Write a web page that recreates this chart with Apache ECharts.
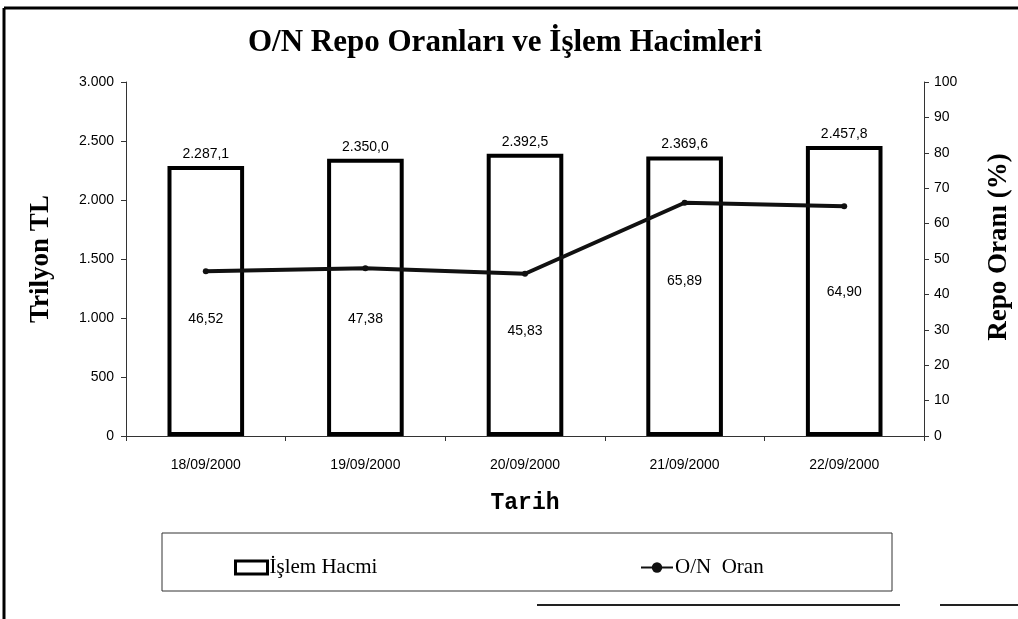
<!DOCTYPE html>
<html>
<head>
<meta charset="utf-8">
<script src="https://cdn.jsdelivr.net/npm/echarts@6/dist/echarts.min.js"></script>
<style>
html,body{margin:0;padding:0;background:#fff;}
#chart{width:1018px;height:619px;}
</style>
</head>
<body>
<div id="chart"></div>
<script>
const categories = ['18/09/2000', '19/09/2000', '20/09/2000', '21/09/2000', '22/09/2000'];
const volumeValues = [2287.1, 2350.0, 2392.5, 2369.6, 2457.8];
const rateValues = [46.52, 47.38, 45.83, 65.89, 64.90];
const titleText = 'O/N Repo Oranları ve İşlem Hacimleri';
const volumeName = 'İşlem Hacmi';
const rateName = 'O/N  Oran';

// label placement (style only, not data)
const rateLabelDistance = [38, 41, 47, 68, 76];

function fmtTR(v, d) {
  const s = Number(v).toFixed(d);
  const parts = s.split('.');
  const intPart = parts[0].replace(/\B(?=(\d{3})+(?!\d))/g, '.');
  return parts.length > 1 ? intPart + ',' + parts[1] : intPart;
}

const chart = echarts.init(document.getElementById('chart'), null, {renderer: 'canvas'});
const sans = 'Liberation Sans, Arial, sans-serif';
const serif = 'Liberation Serif, Times New Roman, serif';

chart.setOption({
  backgroundColor: '#fff',
  animation: false,
  title: {
    text: titleText,
    left: 500,
    textAlign: 'center',
    top: 22,
    textStyle: {fontFamily: serif, fontWeight: 'bold', fontSize: 31, color: '#000'}
  },
  legend: [
    {
      data: [{name: volumeName, icon: 'rect', itemStyle: {color: '#fff', borderColor: '#000', borderWidth: 3}}],
      left: 229, top: 552,
      itemWidth: 32, itemHeight: 13, itemGap: 4,
      textStyle: {fontFamily: serif, fontSize: 21, color: '#000', padding: [0,0,0,-3]}
    },
    {
      data: [rateName],
      left: 635, top: 552,
      itemWidth: 32, itemHeight: 13,
      textStyle: {fontFamily: serif, fontSize: 21, color: '#000', padding: [0,0,0,-3]}
    }
  ],
  grid: {left: 126, right: 94, top: 82, bottom: 183, containLabel: false, outerBoundsMode: 'none'},
  xAxis: {
    type: 'category',
    data: categories,
    name: 'Tarih',
    nameLocation: 'middle',
    nameGap: 56,
    nameTextStyle: {fontFamily: 'Liberation Mono, Courier New, monospace', fontWeight: 'bold', fontSize: 23, color: '#000'},
    axisLine: {lineStyle: {color: '#333', width: 1}},
    axisTick: {show: true, length: 5, lineStyle: {color: '#333'}},
    axisLabel: {fontFamily: sans, fontSize: 14, color: '#000', margin: 22}
  },
  yAxis: [
    {
      type: 'value', min: 0, max: 3000, interval: 500,
      name: 'Trilyon TL',
      nameLocation: 'middle', nameRotate: 90, nameGap: 71,
      nameTextStyle: {fontFamily: serif, fontWeight: 'bold', fontSize: 27, color: '#000'},
      axisLine: {show: true, lineStyle: {color: '#333', width: 1}},
      axisTick: {show: true, length: 5, lineStyle: {color: '#333'}},
      splitLine: {show: false},
      axisLabel: {fontFamily: sans, fontSize: 14, color: '#000', margin: 12, formatter: v => fmtTR(v, 0)}
    },
    {
      type: 'value', min: 0, max: 100, interval: 10,
      name: 'Repo Oranı (%)',
      nameLocation: 'middle', nameRotate: 90, nameGap: 62,
      nameTextStyle: {fontFamily: serif, fontWeight: 'bold', fontSize: 27, color: '#000', padding: [0,0,0,24]},
      position: 'right',
      axisLine: {show: true, lineStyle: {color: '#333', width: 1}},
      axisTick: {show: true, length: 5, lineStyle: {color: '#333'}},
      splitLine: {show: false},
      axisLabel: {fontFamily: sans, fontSize: 14, color: '#000', margin: 10, formatter: v => fmtTR(v, 0)}
    }
  ],
  series: [
    {
      name: volumeName,
      type: 'bar',
      data: volumeValues,
      barWidth: '48%',
      yAxisIndex: 0,
      z: 2,
      itemStyle: {color: '#fff', borderColor: '#000', borderWidth: 4},
      label: {
        show: true, position: 'top', distance: 5,
        fontFamily: sans, fontSize: 14, color: '#000',
        formatter: p => fmtTR(p.value, 1)
      }
    },
    {
      name: rateName,
      type: 'line',
      data: rateValues.map((v, i) => ({value: v, label: {distance: rateLabelDistance[i]}})),
      yAxisIndex: 1,
      z: 3,
      symbol: 'circle', symbolSize: 6,
      lineStyle: {color: '#111', width: 4},
      itemStyle: {color: '#111'},
      label: {
        show: true, position: 'bottom',
        fontFamily: sans, fontSize: 14, color: '#000',
        formatter: p => fmtTR(p.value, 2)
      }
    }
  ],
  graphic: [
    {type: 'line', shape: {x1: 4, y1: 8, x2: 1018, y2: 8}, style: {stroke: '#000', lineWidth: 3}},
    {type: 'line', shape: {x1: 4, y1: 8, x2: 4, y2: 619}, style: {stroke: '#000', lineWidth: 3}},
    {type: 'rect', shape: {x: 162, y: 533, width: 730, height: 58}, style: {fill: 'none', stroke: '#333', lineWidth: 1}},
    {type: 'line', shape: {x1: 537, y1: 605, x2: 900, y2: 605}, style: {stroke: '#222', lineWidth: 2}},
    {type: 'line', shape: {x1: 940, y1: 605, x2: 1018, y2: 605}, style: {stroke: '#222', lineWidth: 2}}
  ]
});
</script>
</body>
</html>
